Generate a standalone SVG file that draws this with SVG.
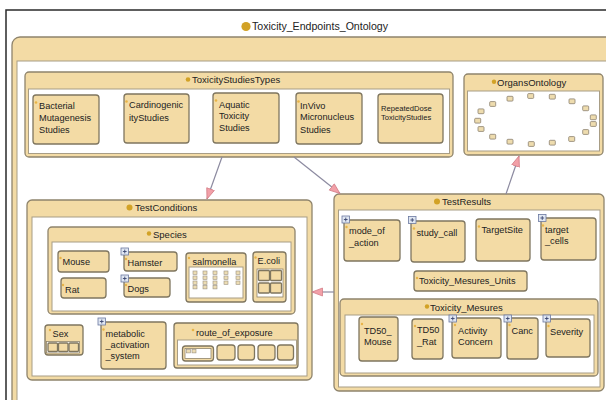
<svg xmlns="http://www.w3.org/2000/svg" xmlns:xlink="http://www.w3.org/1999/xlink" width="606" height="400" viewBox="0 0 606 400">
<style>
.frame{fill:#fff;stroke:#2a2a2a;stroke-width:1.5}
.cont{fill:#f3dba5;stroke:#8f846c;stroke-width:1.3}
.inner{fill:#fff;stroke:#a89d85;stroke-width:1}
.node{fill:#f3dba5;stroke:#7f765f;stroke-width:1.3}
.t{font-family:"Liberation Sans",Arial,sans-serif;font-size:9.2px;fill:#222}
.h{font-size:9.5px}
.sm{font-size:7.6px}
.title{font-size:10.6px}
.dot{fill:#d2a226}
.sdot{fill:#e8b447}
.mini{fill:#ecdcb3;stroke:#9a9080;stroke-width:0.6}
.omini{fill:#eedcae;stroke:#8a8070;stroke-width:0.8}
.wbox{fill:#fff;stroke:#8f846c;stroke-width:0.8}
.edge{stroke:#8c8aa0;stroke-width:1.2;fill:none;marker-end:url(#ah)}
</style>
<defs>
<marker id="ah" markerUnits="userSpaceOnUse" markerWidth="13" markerHeight="10" refX="11" refY="4.5" orient="auto">
<path d="M0.5,0.5 L11,4.5 L0.5,8.5 z" fill="#f2a0a8" stroke="#d47f88" stroke-width="0.8"/>
</marker>
<g id="plus">
<rect x="0" y="0" width="7.5" height="7" fill="#dfe6f2" stroke="#6a78a0" stroke-width="0.8"/>
<path d="M1.9,3.5 H5.6 M3.75,1.6 V5.4" stroke="#3a4670" stroke-width="0.9"/>
</g>
<rect id="mq" x="0" y="0" width="4" height="3.4" class="mini"/>
<rect id="oq" x="-3" y="-2.4" width="6" height="4.8" rx="0.9" class="omini"/>
</defs>

<rect x="6" y="10" width="620" height="410" class="frame"/>
<g id="Toxicity_Endpoints_Ontology">
<circle cx="246" cy="26.5" r="4.6" class="dot"/>
<text x="252" y="30.3" class="t title">Toxicity_Endpoints_Ontology</text>
<rect x="12" y="37" width="620" height="380" rx="8" class="cont"/>
<rect x="17" y="61" width="620" height="360" class="inner"/>
</g>

<g id="ToxicityStudiesTypes">
<rect x="25" y="72" width="428" height="85" rx="4" class="cont"/>
<rect x="28.5" y="89" width="421" height="64.5" class="inner"/>
<circle cx="188" cy="79.5" r="2.3" class="dot"/>
<text x="192" y="83.4" class="t h">ToxicityStudiesTypes</text>
</g>
<g id="BacterialMutagenesisStudies">
<rect x="33" y="95" width="66" height="49" rx="3" class="node"/>
<circle cx="36" cy="102.5" r="1.3" class="sdot"/>
<text x="39" y="109" class="t">Bacterial</text>
<text x="39" y="120.6" class="t">Mutagenesis</text>
<text x="39" y="133" class="t">Studies</text>
</g>
<g id="CardinogenicityStudies">
<rect x="124" y="94" width="65" height="49" rx="3" class="node"/>
<circle cx="126.5" cy="101.5" r="1.3" class="sdot"/>
<text x="129" y="108.3" class="t">Cardinogenic</text>
<text x="129" y="120.6" class="t">ityStudies</text>
</g>
<g id="AquaticToxicityStudies">
<rect x="213" y="93" width="66" height="50" rx="3" class="node"/>
<circle cx="216" cy="100.5" r="1.3" class="sdot"/>
<text x="219" y="107.6" class="t">Aquatic</text>
<text x="219" y="119" class="t">Toxicity</text>
<text x="219" y="130.6" class="t">Studies</text>
</g>
<g id="InVivoMicronucleusStudies">
<rect x="296" y="93" width="66" height="51" rx="3" class="node"/>
<circle cx="298.5" cy="101.5" r="1.3" class="sdot"/>
<text x="300" y="109" class="t">InVivo</text>
<text x="300" y="120.4" class="t">Micronucleus</text>
<text x="300" y="133" class="t">Studies</text>
</g>
<g id="RepeatedDoseToxicityStudies">
<rect x="378" y="94" width="65" height="49" rx="3" class="node"/>
<text x="381" y="110.6" class="t sm">RepeatedDose</text>
<text x="381" y="119.6" class="t sm">ToxicityStudies</text>
</g>

<g id="OrgansOntology">
<rect x="464" y="74" width="139" height="81" rx="4" class="cont"/>
<rect x="467.5" y="91" width="132" height="60" class="inner"/>
<circle cx="494" cy="81.8" r="2.2" class="dot"/>
<text x="497" y="86" class="t h">OrgansOntology</text>
<use href="#oq" x="492.7" y="104"/><use href="#oq" x="510" y="98.7"/><use href="#oq" x="530.7" y="96"/>
<use href="#oq" x="552.3" y="96.7"/><use href="#oq" x="572" y="101.3"/><use href="#oq" x="585.7" y="108.3"/>
<use href="#oq" x="593.3" y="117.3"/><use href="#oq" x="593.3" y="124"/><use href="#oq" x="585.7" y="132"/>
<use href="#oq" x="571.7" y="139"/><use href="#oq" x="552.3" y="142.7"/><use href="#oq" x="531.3" y="144"/>
<use href="#oq" x="510" y="141.7"/><use href="#oq" x="492.7" y="136.7"/><use href="#oq" x="481" y="129"/>
<use href="#oq" x="477.7" y="120.7"/><use href="#oq" x="481" y="111.3"/>
</g>

<g id="TestConditions">
<rect x="27" y="200" width="285" height="180" rx="5" class="cont"/>
<rect x="32" y="217" width="275" height="159" class="inner"/>
<circle cx="129.5" cy="207.5" r="3" class="dot"/>
<text x="135" y="211.4" class="t h">TestConditions</text>
</g>
<g id="Species">
<rect x="48" y="227" width="247" height="87" rx="4" class="cont"/>
<rect x="52" y="242" width="239" height="69" class="inner"/>
<circle cx="149" cy="233.5" r="2.2" class="dot"/>
<text x="153" y="238.4" class="t h">Species</text>
</g>
<g id="Mouse">
<rect x="58" y="251" width="51" height="21" rx="3" class="node"/>
<circle cx="60.5" cy="258" r="1.2" class="sdot"/>
<text x="62.5" y="265" class="t">Mouse</text>
</g>
<g id="Rat">
<rect x="61" y="278" width="45" height="20" rx="3" class="node"/>
<circle cx="63" cy="285" r="1.2" class="sdot"/>
<text x="65" y="293.3" class="t">Rat</text>
</g>
<g id="Hamster">
<rect x="124" y="252" width="53" height="19" rx="3" class="node"/>
<use href="#plus" x="121" y="248"/>
<circle cx="126" cy="259" r="1.2" class="sdot"/>
<text x="127.5" y="266" class="t">Hamster</text>
</g>
<g id="Dogs">
<rect x="124" y="278" width="46" height="19" rx="3" class="node"/>
<use href="#plus" x="121" y="275"/>
<circle cx="126" cy="285" r="1.2" class="sdot"/>
<text x="127.5" y="292.3" class="t">Dogs</text>
</g>
<g id="salmonella">
<rect x="186" y="253" width="60" height="49" rx="3" class="node"/>
<rect x="189" y="267" width="54" height="31" class="inner"/>
<circle cx="189" cy="258" r="1.2" class="sdot"/>
<text x="192.5" y="265" class="t">salmonella</text>
<use href="#mq" x="193" y="271"/><use href="#mq" x="193" y="276"/><use href="#mq" x="193" y="281"/><use href="#mq" x="193" y="285.5"/>
<use href="#mq" x="203" y="271"/><use href="#mq" x="203" y="276"/><use href="#mq" x="203" y="281"/><use href="#mq" x="203" y="285.5"/>
<use href="#mq" x="213" y="271"/><use href="#mq" x="213" y="276"/><use href="#mq" x="213" y="281"/><use href="#mq" x="213" y="285.5"/>
<use href="#mq" x="224" y="271"/><use href="#mq" x="224" y="276"/><use href="#mq" x="224" y="281"/>
<use href="#mq" x="236" y="271"/><use href="#mq" x="236" y="276"/><use href="#mq" x="236" y="281"/>
</g>
<g id="E.coli">
<rect x="253" y="252" width="33" height="50" rx="3" class="node"/>
<circle cx="255.5" cy="257.5" r="1.2" class="sdot"/>
<text x="257.5" y="264" class="t">E.coli</text>
<rect x="257" y="269" width="26" height="28" class="wbox"/>
<rect x="258.5" y="270.5" width="11" height="10" rx="1" class="node" stroke-width="0.8"/>
<rect x="270.5" y="270.5" width="11" height="10" rx="1" class="node" stroke-width="0.8"/>
<rect x="258.5" y="283" width="11" height="10" rx="1" class="node" stroke-width="0.8"/>
<rect x="270.5" y="283" width="11" height="10" rx="1" class="node" stroke-width="0.8"/>
</g>
<g id="Sex">
<rect x="45" y="325" width="38" height="30" rx="3" class="node"/>
<circle cx="50" cy="330" r="1.2" class="sdot"/>
<text x="52.5" y="336.6" class="t">Sex</text>
<rect x="46.5" y="341.5" width="33" height="11.5" class="wbox"/>
<rect x="48" y="343" width="9.5" height="8.5" rx="1" class="node" stroke-width="0.8"/>
<rect x="58.5" y="343" width="9.5" height="8.5" rx="1" class="node" stroke-width="0.8"/>
<rect x="69" y="343" width="9.5" height="8.5" rx="1" class="node" stroke-width="0.8"/>
</g>
<g id="metabolic_activation_system">
<rect x="101" y="322" width="65" height="47" rx="3" class="node"/>
<use href="#plus" x="98" y="318"/>
<circle cx="103.5" cy="329.5" r="1.2" class="sdot"/>
<text x="105.5" y="336.6" class="t">metabolic</text>
<text x="105.5" y="347.6" class="t">_activation</text>
<text x="105.5" y="359" class="t">_system</text>
</g>
<g id="route_of_exposure">
<rect x="174" y="323" width="124" height="45" rx="3" class="node"/>
<rect x="177.5" y="340" width="119" height="25" class="inner"/>
<circle cx="193" cy="330" r="1.3" class="sdot"/>
<text x="196" y="335.6" class="t">route_of_exposure</text>
<rect x="182.5" y="346" width="31" height="15" rx="3" class="node"/>
<rect x="185" y="348.5" width="26" height="10" class="wbox" stroke-width="0.6"/>
<use href="#mq" x="186.5" y="349.5"/><use href="#mq" x="192" y="349.5"/>
<rect x="217" y="345" width="18" height="15" rx="3" class="node"/>
<rect x="238" y="345" width="16.5" height="15" rx="3" class="node"/>
<rect x="258" y="345" width="17" height="15" rx="3" class="node"/>
<rect x="277.5" y="345" width="16" height="15" rx="3" class="node"/>
</g>

<g id="TestResults">
<rect x="334" y="194" width="270" height="197" rx="5" class="cont"/>
<rect x="338.5" y="210" width="261.5" height="177" class="inner"/>
<circle cx="437" cy="201.5" r="3" class="dot"/>
<text x="442" y="205.4" class="t h">TestResults</text>
</g>
<g id="mode_of_action">
<rect x="344" y="220" width="56" height="41" rx="3" class="node"/>
<use href="#plus" x="342" y="216"/>
<circle cx="346.5" cy="227" r="1.2" class="sdot"/>
<text x="349" y="234.4" class="t">mode_of</text>
<text x="349" y="245.6" class="t">_action</text>
</g>
<g id="study_call">
<rect x="411" y="221" width="54" height="41" rx="3" class="node"/>
<use href="#plus" x="408.5" y="216.5"/>
<circle cx="414" cy="228.5" r="1.2" class="sdot"/>
<text x="416.5" y="235.6" class="t">study_call</text>
</g>
<g id="TargetSite">
<rect x="476" y="219" width="54" height="42" rx="3" class="node"/>
<circle cx="479" cy="226.5" r="1.2" class="sdot"/>
<text x="481.5" y="233.4" class="t">TargetSite</text>
</g>
<g id="target_cells">
<rect x="541" y="218" width="55" height="42" rx="3" class="node"/>
<use href="#plus" x="538.5" y="214.5"/>
<circle cx="543" cy="225.5" r="1.2" class="sdot"/>
<text x="545" y="232.6" class="t">target</text>
<text x="545" y="244" class="t">_cells</text>
</g>
<g id="Toxicity_Mesures_Units">
<rect x="414" y="271" width="113" height="20" rx="3" class="node"/>
<circle cx="417" cy="278" r="1.2" class="sdot"/>
<text x="419" y="284.4" class="t">Toxicity_Mesures_Units</text>
</g>
<g id="Toxicity_Mesures">
<rect x="340" y="299" width="258" height="77" rx="4" class="cont"/>
<rect x="345" y="315" width="249" height="58" class="inner"/>
<circle cx="427" cy="306.5" r="2.2" class="dot"/>
<text x="430" y="311.4" class="t h">Toxicity_Mesures</text>
</g>
<g id="TD50_Mouse">
<rect x="359" y="317" width="39" height="44" rx="3" class="node"/>
<circle cx="362" cy="324" r="1.2" class="sdot"/>
<text x="364" y="334" class="t">TD50_</text>
<text x="364" y="345" class="t">Mouse</text>
</g>
<g id="TD50_Rat">
<rect x="412" y="319" width="31" height="40" rx="3" class="node"/>
<circle cx="415" cy="326" r="1.2" class="sdot"/>
<text x="417" y="333.4" class="t">TD50</text>
<text x="417" y="345" class="t">_Rat</text>
</g>
<g id="ActivityConcern">
<rect x="452" y="318" width="49" height="40" rx="3" class="node"/>
<use href="#plus" x="449" y="315"/>
<circle cx="455" cy="325" r="1.2" class="sdot"/>
<text x="458" y="334" class="t">Activity</text>
<text x="458" y="345" class="t">Concern</text>
</g>
<g id="Canc">
<rect x="507" y="318" width="31" height="41" rx="3" class="node"/>
<use href="#plus" x="504" y="315"/>
<circle cx="509.5" cy="325" r="1.2" class="sdot"/>
<text x="511.5" y="334" class="t">Canc</text>
</g>
<g id="Severity">
<rect x="546" y="319" width="44" height="38" rx="3" class="node"/>
<use href="#plus" x="543" y="315"/>
<circle cx="548.5" cy="326" r="1.2" class="sdot"/>
<text x="550" y="335" class="t">Severity</text>
</g>

<g id="connectors">
<path d="M222,157 L207,199" class="edge"/>
<path d="M294,157 L340,193.5" class="edge"/>
<path d="M506,194 L519,156" class="edge"/>
<path d="M334,292 L312,292" class="edge"/>
</g>
</svg>
